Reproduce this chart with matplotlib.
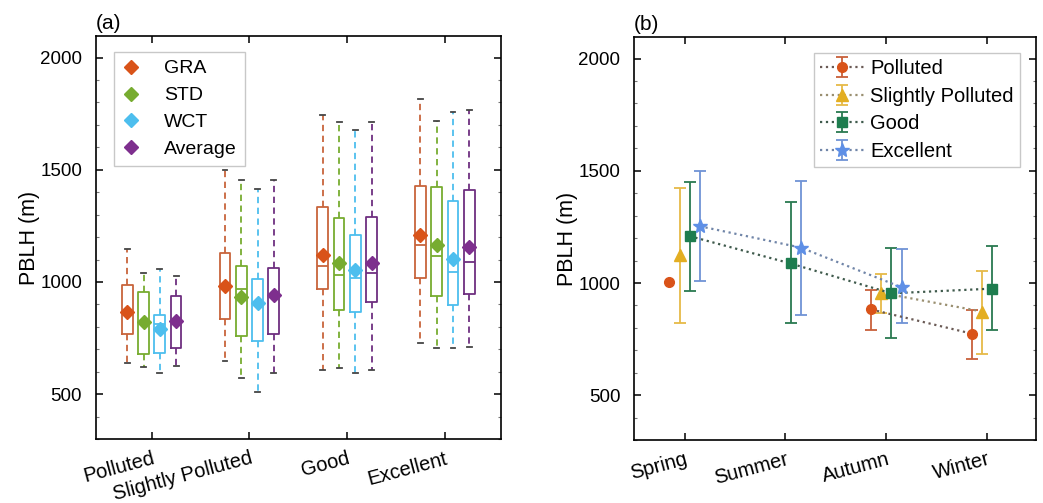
import numpy as np
import matplotlib
matplotlib.use("Agg")
import matplotlib.pyplot as plt
from matplotlib.lines import Line2D
from matplotlib.ticker import MultipleLocator

plt.rcParams['font.family'] = ['Liberation Sans', 'DejaVu Sans']

# ---- panel (a): box plots per air quality class ----
classes = ['Polluted', 'Slightly Polluted', 'Good', 'Excellent']
methods = ['GRA', 'STD', 'WCT', 'Average']
# each row: Polluted, Slightly Polluted, Good, Excellent
box_lo = {'GRA': [637, 648, 610, 727], 'STD': [622, 573, 615, 704],
          'WCT': [596, 510, 596, 704], 'Average': [627, 593, 607, 712]}
box_q1 = {'GRA': [767, 836, 969, 1016], 'STD': [679, 761, 875, 939],
          'WCT': [685, 739, 867, 897], 'Average': [707, 767, 912, 945]}
box_med = {'GRA': [862, 978, 1072, 1167], 'STD': [818, 970, 1031, 1115],
           'WCT': [814, 902, 1019, 1043], 'Average': [825, 938, 1038, 1087]}
box_q3 = {'GRA': [988, 1130, 1334, 1427], 'STD': [954, 1073, 1283, 1424],
          'WCT': [855, 1013, 1209, 1362], 'Average': [936, 1063, 1290, 1412]}
box_hi = {'GRA': [1149, 1497, 1744, 1815], 'STD': [1040, 1456, 1712, 1719],
          'WCT': [1058, 1414, 1678, 1759], 'Average': [1025, 1456, 1712, 1766]}
box_mean = {'GRA': [866, 981, 1120, 1209], 'STD': [821, 933, 1083, 1164],
            'WCT': [790, 906, 1053, 1102], 'Average': [827, 940, 1086, 1157]}
method_colors = {'GRA': '#D95319', 'STD': '#77AC30', 'WCT': '#4DBEEE', 'Average': '#7E2F8E'}
box_edge = {'GRA': '#C8643C', 'STD': '#77AC30', 'WCT': '#4DBEEE', 'Average': '#6E2F80'}

# ---- panel (b): seasonal means with ranges ----
seasons = ['Spring', 'Summer', 'Autumn', 'Winter']
levels = ['Polluted', 'Slightly Polluted', 'Good', 'Excellent']
nan = np.nan
pt_mean = {'Polluted': [1004, nan, 882, 774],
           'Slightly Polluted': [1126, nan, 956, 873],
           'Good': [1209, 1087, 954, 975],
           'Excellent': [1253, 1158, 981, nan]}
pt_low = {'Polluted': [nan, nan, 791, 661],
          'Slightly Polluted': [824, nan, 865, 683],
          'Good': [965, 824, 756, 791],
          'Excellent': [1009, 858, 820, nan]}
pt_high = {'Polluted': [nan, nan, 969, 879],
           'Slightly Polluted': [1422, nan, 1038, 1052],
           'Good': [1448, 1360, 1157, 1167],
           'Excellent': [1500, 1456, 1152, nan]}
level_colors = {'Polluted': '#D95319', 'Slightly Polluted': '#E3AE22',
                'Good': '#1E7D4F', 'Excellent': '#5E8FE6'}
bar_colors = {'Polluted': '#C8603A', 'Slightly Polluted': '#E6BA48',
              'Good': '#2A7A50', 'Excellent': '#6F93D6'}
line_colors = {'Polluted': '#6A5A55', 'Slightly Polluted': '#9A8F70',
               'Good': '#3F5A4C', 'Excellent': '#7085A8'}
markers = {'Polluted': 'o', 'Slightly Polluted': '^', 'Good': 's', 'Excellent': '*'}
msizes = {'Polluted': 7, 'Slightly Polluted': 8, 'Good': 6.5, 'Excellent': 10}

fig = plt.figure(figsize=(10.43, 5.03), dpi=100)
ax1 = fig.add_axes([0.092, 0.127, 0.388, 0.801])
ax2 = fig.add_axes([0.608, 0.125, 0.385, 0.801])

pos = np.arange(1, len(classes) + 1)
offsets = [-0.25, -0.083, 0.083, 0.25]
for m, off in zip(methods, offsets):
    stats = []
    for i in range(len(classes)):
        stats.append(dict(whislo=box_lo[m][i], q1=box_q1[m][i], med=box_med[m][i],
                          q3=box_q3[m][i], whishi=box_hi[m][i], mean=box_mean[m][i]))
    c = method_colors[m]
    ec = box_edge[m]
    ax1.bxp(stats, positions=pos + off, widths=0.11, capwidths=0.05,
            showmeans=True, showfliers=False, manage_ticks=False,
            boxprops=dict(color=ec, lw=1.3),
            whiskerprops=dict(color=ec, lw=1.3, ls=(0, (3.5, 2.5))),
            capprops=dict(color='#444444', lw=1.3),
            medianprops=dict(color=ec, lw=1.3),
            meanprops=dict(marker='D', markerfacecolor=c, markeredgecolor=c, markersize=7))

handles = [Line2D([], [], ls='none', marker='D', color=method_colors[m], markersize=7) for m in methods]
leg1 = ax1.legend(handles, methods, loc='upper left', fontsize=14, frameon=True,
                  fancybox=False, edgecolor='#BBBBBB', handlelength=1.0, handletextpad=1.2,
                  labelspacing=0.48, borderpad=0.4, bbox_to_anchor=(0.02, 0.985))
leg1.get_frame().set_linewidth(1.0)

ax1.set_xlim(0.43, 4.57)
ax1.set_xticks(pos)
ax1.set_xticklabels(classes, rotation=15, ha='right', rotation_mode='anchor', fontsize=14.5)

spos = np.arange(1, len(seasons) + 1)
soff = [-0.15, -0.05, 0.05, 0.15]
for lv, off in zip(levels, soff):
    mean = np.array(pt_mean[lv], dtype=float)
    lo = np.array(pt_low[lv], dtype=float)
    hi = np.array(pt_high[lv], dtype=float)
    yerr = np.vstack([mean - lo, hi - mean])
    ax2.errorbar(spos + off, mean, yerr=yerr, fmt=markers[lv], ls=':', lw=1.6,
                 color=line_colors[lv], ecolor=bar_colors[lv], elinewidth=1.3,
                 capsize=4, capthick=1.3, markersize=msizes[lv],
                 markerfacecolor=level_colors[lv], markeredgecolor=level_colors[lv],
                 label=lv)
leg2 = ax2.legend(loc='upper right', fontsize=14.5, frameon=True, fancybox=False,
                  edgecolor='#BBBBBB', handlelength=2.2, handletextpad=0.3,
                  labelspacing=0.42, borderpad=0.3, bbox_to_anchor=(0.985, 0.985))
leg2.get_frame().set_linewidth(1.0)

ax2.set_xlim(0.5, 4.48)
ax2.set_xticks(spos)
ax2.set_xticklabels(seasons, rotation=15, ha='right', rotation_mode='anchor', fontsize=14.5)

for ax, tag in [(ax1, '(a)'), (ax2, '(b)')]:
    ax.set_ylim(300, 2095)
    ax.set_yticks([500, 1000, 1500, 2000])
    ax.yaxis.set_minor_locator(MultipleLocator(100))
    ax.tick_params(axis='y', which='major', labelsize=13.5, direction='in', left=True,
                   right=True, length=5, width=1.1, pad=10)
    ax.tick_params(axis='y', which='minor', direction='in', left=True, right=True,
                   length=2.5, width=0.8, color='#777777')
    ax.tick_params(axis='x', which='major', direction='in', top=True, bottom=True,
                   length=5, width=1.1, pad=7)
    ax.tick_params(axis='x', which='minor', bottom=False, top=False)
    for sp in ax.spines.values():
        sp.set_linewidth(1.2)
    ax.set_ylabel('PBLH (m)', fontsize=15.5, labelpad=0)
    ax.text(0.0, 1.008, tag, transform=ax.transAxes, fontsize=15, ha='left', va='bottom')

fig.savefig('out.png', dpi=100)
